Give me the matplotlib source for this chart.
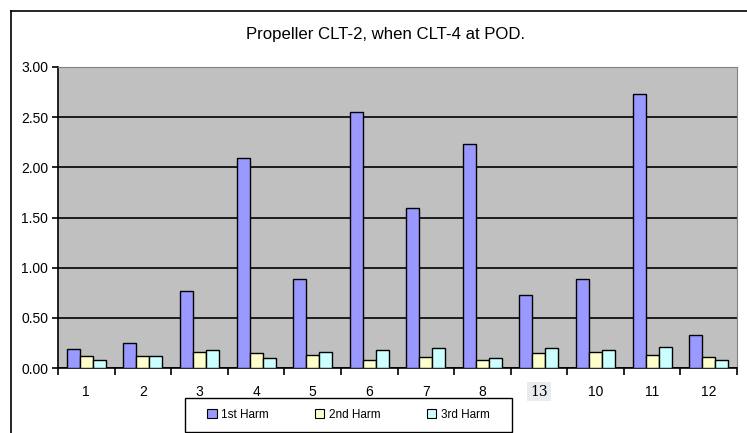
import numpy as np
import matplotlib.pyplot as plt
from matplotlib.lines import Line2D
from matplotlib.patches import Rectangle

categories = ["1", "2", "3", "4", "5", "6", "7", "8", "13", "10", "11", "12"]
harm1 = [0.19, 0.25, 0.77, 2.09, 0.89, 2.55, 1.59, 2.23, 0.73, 0.89, 2.73, 0.33]
harm2 = [0.12, 0.12, 0.16, 0.15, 0.13, 0.08, 0.11, 0.08, 0.15, 0.16, 0.13, 0.11]
harm3 = [0.08, 0.12, 0.18, 0.10, 0.16, 0.18, 0.20, 0.10, 0.20, 0.18, 0.21, 0.08]
series_names = ["1st Harm", "2nd Harm", "3rd Harm"]
colors = ["#9999FF", "#FFFFCC", "#CCFFFF"]

plt.rcParams['font.family'] = ['Liberation Sans', 'DejaVu Sans']

fig = plt.figure(figsize=(7.47, 4.33), dpi=100)
W, H = 747, 433
ax = fig.add_axes([58 / W, 1 - 368 / H, (737 - 58) / W, (368 - 67) / H])

x = np.arange(len(categories))
bw = 0.23
for k, (vals, name, c) in enumerate(zip([harm1, harm2, harm3], series_names, colors)):
    ax.bar(x + (k - 1) * bw, vals, width=bw, color=c, edgecolor="black",
           linewidth=1.0, label=name, zorder=3)

ax.set_facecolor("#C0C0C0")
ax.set_xlim(-0.5, len(categories) - 0.5)
ax.set_ylim(0, 3.0)
ax.set_yticks(np.arange(0, 3.01, 0.5))
ax.set_yticklabels([f"{v:.2f}" for v in np.arange(0, 3.01, 0.5)], fontsize=10)
ax.yaxis.grid(True, color="black", linewidth=1.2, zorder=1)
ax.set_axisbelow(True)

# category boundaries carry the tick marks, labels sit in the middle
ax.set_xticks(np.arange(-0.5, len(categories), 1.0))
ax.set_xticklabels([])
ax.set_xticks(x, minor=True)
ax.set_xticklabels(categories, minor=True, fontsize=10)
ax.tick_params(axis="x", which="minor", length=0, pad=12)
ax.tick_params(axis="x", which="major", length=5, width=1.2, direction="out")
ax.tick_params(axis="y", length=4, width=1.2, direction="out", pad=3)

for lbl in ax.get_xticklabels(minor=True):
    if lbl.get_text() == "13":
        lbl.set_family("DejaVu Serif")
        lbl.set_bbox(dict(facecolor="#E8ECEE", edgecolor="none", pad=2))

for side in ["top", "right"]:
    ax.spines[side].set_color("#808080")
for side in ["left", "bottom"]:
    ax.spines[side].set_color("black")
    ax.spines[side].set_linewidth(1.2)

fig.text(386 / W, 1 - 35 / H, "Propeller CLT-2, when CLT-4 at POD.",
         ha="center", va="center", fontsize=12.1)

# legend box drawn separately so the side padding matches
fig.add_artist(Rectangle((185 / W, 1 - 432 / H), (512 - 185) / W, (432 - 398) / H,
                         transform=fig.transFigure, facecolor="white",
                         edgecolor="black", linewidth=1.0, zorder=4))
leg = fig.legend(loc="center", bbox_to_anchor=((185 + 512) / 2 / W, 1 - 415 / H),
                 ncol=3, fontsize=8.5, frameon=False,
                 handlelength=0.8, handleheight=0.8, columnspacing=3.9,
                 handletextpad=0.4)
leg.set_zorder(5)
for h in leg.legend_handles:
    h.set_linewidth(0.8)

# outer chart frame (left and top edges visible)
fig.add_artist(Line2D([11 / W, 11 / W], [0, 1 - 11 / H], color="black",
                      linewidth=1.2, transform=fig.transFigure))
fig.add_artist(Line2D([11 / W, 1], [1 - 11 / H, 1 - 11 / H], color="black",
                      linewidth=1.2, transform=fig.transFigure))

fig.savefig("out.png", dpi=100)
